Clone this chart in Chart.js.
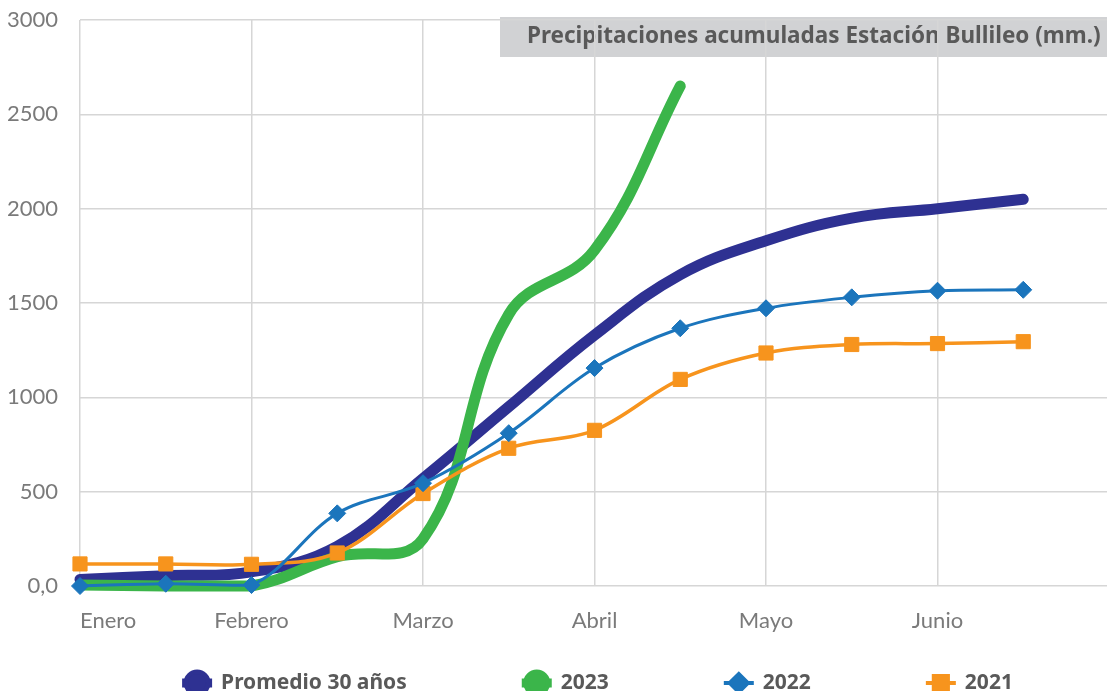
<!DOCTYPE html>
<html>
<head>
<meta charset="utf-8">
<script src="https://cdn.jsdelivr.net/npm/chart.js@4/dist/chart.umd.min.js"></script>
<style>
  html, body { margin: 0; padding: 0; background: #fff; overflow: hidden; }
  canvas { display: block; }
</style>
</head>
<body>
<canvas id="chart" width="1120" height="691"></canvas>
<script>
// half-month steps, month name on every other one (last slot is empty)
const months = ['Enero', '', 'Febrero', '', 'Marzo', '', 'Abril', '', 'Mayo', '', 'Junio', '', ''];
const promedio = [35, 55, 75, 210, 570, 950, 1330, 1650, 1830, 1950, 2000, 2050];
const y2023 = [5, 0, 0, 155, 250, 1440, 1780, 2650];
const y2022 = [0, 12, 5, 385, 545, 810, 1155, 1366, 1472, 1530, 1565, 1570];
const y2021 = [117, 117, 115, 175, 490, 730, 825, 1095, 1235, 1280, 1285, 1295];
const seriesNames = ['Promedio 30 años', '2023', '2022', '2021'];
const yMax = 3000;
const yStep = 500;
const title = 'Precipitaciones acumuladas Estación Bullileo (mm.)';

const gridColor = '#d6d6d6';
const textGray = '#7a7a7a';
const darkGray = '#595959';

// title box + custom legend
const extras = {
    id: 'extras',
    beforeDraw(chart) {
        let ctx = chart.ctx;
        ctx.save();
        ctx.fillStyle = '#d1d2d4';
        ctx.fillRect(500, 17, chart.width - 500, 40);
        ctx.fillStyle = darkGray;
        ctx.font = 'bold 22.5px "Noto Sans"';
        ctx.textBaseline = 'middle';
        ctx.fillText(title, 527, 37);
        ctx.restore();
    },
    afterDraw(chart) {
        let ctx = chart.ctx;
        let area = chart.chartArea;
        let y = 683;
        let gap = 115;
        let lineLen = 30;
        ctx.save();
        ctx.font = 'bold 21px "Noto Sans"';
        ctx.textBaseline = 'middle';
        let items = chart.data.datasets;
        let widths = items.map(d => lineLen + 9 + ctx.measureText(d.label).width);
        let total = widths.reduce((a, b) => a + b, 0) + gap * (items.length - 1);
        let x = (area.left + area.right) / 2 - total / 2 + 3;
        items.forEach((d, i) => {
            ctx.strokeStyle = d.borderColor;
            ctx.lineWidth = d.legendLine;
            ctx.lineCap = 'butt';
            ctx.beginPath();
            ctx.moveTo(x, y);
            ctx.lineTo(x + lineLen, y);
            ctx.stroke();
            Chart.helpers.drawPoint(ctx, {
                pointStyle: d.legendStyle,
                radius: d.legendRadius,
                borderWidth: 1,
                rotation: 0
            }, x + lineLen / 2, y);
            ctx.fillStyle = d.borderColor;
            ctx.fill();
            ctx.fillStyle = darkGray;
            ctx.fillText(d.label, x + lineLen + 9, y);
            x += widths[i] + gap;
        });
        ctx.restore();
    }
};

let ctx = document.getElementById('chart').getContext('2d');
let chart = new Chart(ctx, {
    type: 'line',
    data: {
        labels: months,
        datasets: [
        {
            label: seriesNames[0],
            data: promedio,
            borderColor: '#2e3192',
            backgroundColor: '#2e3192',
            borderWidth: 11,
            borderCapStyle: 'round',
            pointRadius: 0,
            tension: 0.4,
            order: 4,
            legendStyle: 'circle', legendRadius: 9, legendLine: 9
        },
        {
            label: seriesNames[1],
            data: y2023,
            borderColor: '#3bb54a',
            backgroundColor: '#3bb54a',
            borderWidth: 11,
            borderCapStyle: 'round',
            pointRadius: 0,
            tension: 0.4,
            order: 3,
            legendStyle: 'circle', legendRadius: 9, legendLine: 9
        },
        {
            label: seriesNames[2],
            data: y2022,
            borderColor: '#1b75bc',
            backgroundColor: '#1b75bc',
            borderWidth: 3,
            pointStyle: 'rectRot',
            pointRadius: 8.5,
            pointBorderWidth: 1,
            tension: 0.35,
            order: 1,
            legendStyle: 'rectRot', legendRadius: 9, legendLine: 4
        },
        {
            label: seriesNames[3],
            data: y2021,
            borderColor: '#f7941d',
            backgroundColor: '#f7941d',
            borderWidth: 3.5,
            pointStyle: 'rect',
            pointRadius: 10,
            pointBorderWidth: 1,
            tension: 0.35,
            order: 2,
            legendStyle: 'rect', legendRadius: 10, legendLine: 4
        }
        ]
    },
    options: {
        responsive: false,
        animation: false,
        clip: false,
        events: [],
        layout: { padding: { top: 20, right: 8, left: 0, bottom: 0 } },
        plugins: {
            legend: { display: false },
            tooltip: { enabled: false }
        },
        scales: {
            x: {
                grid: {
                    color: c => c.index % 2 === 0 ? gridColor : 'rgba(0,0,0,0)',
                    lineWidth: 1.5,
                    drawTicks: false
                },
                border: { display: false },
                ticks: {
                    autoSkip: false,
                    maxRotation: 0,
                    align: 'inner',
                    padding: 22,
                    color: textGray,
                    font: { family: 'Lato', size: 22 }
                },
                afterFit: s => { s.height = 105; s.paddingLeft = 0; s.paddingRight = 0; }
            },
            y: {
                min: 0,
                max: yMax,
                grid: { color: gridColor, lineWidth: 1.5, drawTicks: false },
                border: { display: false },
                ticks: {
                    stepSize: yStep,
                    padding: 22,
                    color: textGray,
                    font: { family: 'Lato', size: 22 },
                    callback: v => v === 0 ? '0,0' : String(v)
                },
                afterFit: s => { s.width = 80; s.paddingTop = 0; s.paddingBottom = 0; }
            }
        }
    },
    plugins: [extras]
});
</script>
</body>
</html>
